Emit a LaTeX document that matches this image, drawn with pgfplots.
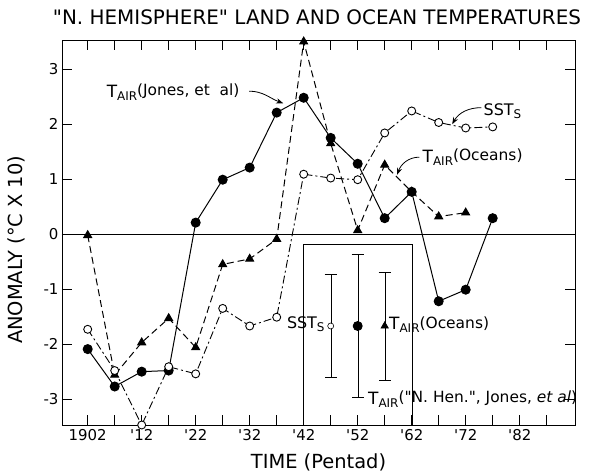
\documentclass[border=0pt]{standalone}
\usepackage{fontspec}
\setmainfont{DejaVu Sans}
\usepackage{pgfplots}
\pgfplotsset{compat=1.18}
\usetikzlibrary{arrows.meta}
\newcommand{\fs}[1]{\fontsize{#1}{#1}\selectfont}
\newcommand{\Tair}{{\fs{17}T}\raisebox{-0.5ex}{\fs{12}AIR}}
\newcommand{\SSTs}{{\fs{16}SST}\raisebox{-0.5ex}{\fs{12}S}}
\begin{document}
\begin{tikzpicture}
\useasboundingbox (-62bp,-47bp) rectangle (535bp,425bp);
\begin{axis}[
  at={(0,0)}, anchor=south west, scale only axis,
  width=513bp, height=385bp,
  xmin=1897.24, xmax=1992.24, ymin=-3.47, ymax=3.53,
  xtick={1902,1912,1922,1932,1942,1952,1962,1972,1982},
  xticklabels={1902,\textquotesingle12,\textquotesingle22,\textquotesingle32,\textquotesingle42,\textquotesingle52,\textquotesingle62,\textquotesingle72,\textquotesingle82},
  minor xtick={1907,1917,1927,1937,1947,1957,1967,1977,1987},
  ytick={-3,-2,-1,0,1,2,3},
  yticklabels={-3,-2,-1,0,1,2,3},
  tick align=inside,
  major tick length=10bp, minor tick length=10bp,
  tick style={black, line width=0.8pt},
  axis line style={line width=1pt},
  ticklabel style={font=\fs{15}},
  xticklabel style={yshift=-1bp},
  clip=false,
]
\addplot[black, line width=0.8pt] coordinates {(1897.24,0) (1992.24,0)};

% T_AIR Jones et al
\addplot[black, line width=1pt, mark=*, mark size=4.5bp, mark options={solid, fill=black}] coordinates {
(1902,-2.09)(1907,-2.77)(1912,-2.50)(1917,-2.48)(1922,0.21)(1927,0.99)(1932,1.21)(1937,2.21)(1942,2.48)(1947,1.75)(1952,1.28)(1957,0.29)(1962,0.77)(1967,-1.22)(1972,-1.01)(1977,0.29)};

% T_AIR Oceans
\addplot[black, line width=1pt, dash pattern=on 7bp off 4bp, mark=triangle*, mark size=4.5bp, mark options={solid, fill=black}] coordinates {
(1902,-0.02)(1907,-2.56)(1912,-1.97)(1917,-1.53)(1922,-2.06)(1927,-0.55)(1932,-0.45)(1937,-0.09)(1942,3.50)(1947,1.65)(1952,0.07)(1957,1.26)(1962,0.77)(1967,0.32)(1972,0.39)};

% SST_S
\addplot[black, line width=0.9pt, dash pattern=on 8bp off 3bp on 2bp off 3bp, mark=*, mark size=4bp, mark options={solid, fill=white}] coordinates {
(1902,-1.73)(1907,-2.48)(1912,-3.47)(1917,-2.41)(1922,-2.54)(1927,-1.35)(1932,-1.67)(1937,-1.51)(1942,1.09)(1947,1.02)(1952,0.99)(1957,1.84)(1962,2.24)(1967,2.03)(1972,1.93)(1977,1.95)};

% inset box
\draw[line width=0.8pt] (axis cs:1942,-3.47) -- (axis cs:1942,-0.18) -- (axis cs:1962.2,-0.18) -- (axis cs:1962.2,-3.47);

% error bars
\addplot[black, line width=0.6pt, mark=*, mark size=3bp, mark options={fill=white},
  error bars/.cd, y dir=both, y explicit, error mark=|, error mark options={mark size=6bp, line width=0.8pt}]
  coordinates {(1947,-1.67) +- (0,0.94)};
\addplot[black, line width=0.9pt, mark=*, mark size=4.5bp, mark options={fill=black},
  error bars/.cd, y dir=both, y explicit, error mark=|, error mark options={mark size=6bp, line width=0.8pt}]
  coordinates {(1952,-1.67) +- (0,1.30)};
\addplot[black, line width=0.9pt, mark=triangle*, mark size=4bp, mark options={fill=black},
  error bars/.cd, y dir=both, y explicit, error mark=|, error mark options={mark size=6bp, line width=0.8pt}]
  coordinates {(1957,-1.67) +- (0,0.98)};

% inset labels
\node[anchor=east, inner sep=0pt] at (axis cs:1945.9,-1.64) {\SSTs};
\node[anchor=west, inner sep=0pt] at (axis cs:1957.8,-1.64) {\Tair\raisebox{0.3ex}{\fs{15.5}(Oceans)}};
\node[anchor=west, inner sep=0pt] at (axis cs:1953.9,-3.0) {\Tair\raisebox{0.3ex}{\fs{15.5}(\textquotedbl N. Hen.\textquotedbl, Jones, \textit{et al})}};

% annotations
\node[anchor=west, inner sep=0pt] at (axis cs:1905.5,2.58) {\Tair\raisebox{0.3ex}{\fs{15.5}(Jones, et\ \ al)}};
\draw[-{Stealth[length=7bp]}, line width=0.8pt] (axis cs:1931.9,2.6) to[out=0, in=160] (axis cs:1938.2,2.38);

\node[anchor=west, inner sep=0pt] at (axis cs:1975.3,2.24) {\SSTs};
\draw[-{Stealth[length=7bp]}, line width=0.8pt] (axis cs:1974.9,2.3) to[out=180, in=60] (axis cs:1969.5,2.0);

\node[anchor=west, inner sep=0pt] at (axis cs:1964.0,1.40) {\Tair\raisebox{0.3ex}{\fs{15.5}(Oceans)}};
\draw[-{Stealth[length=7bp]}, line width=0.8pt] (axis cs:1963.4,1.40) to[out=180, in=70] (axis cs:1959.3,1.08);

% labels
\node[font=\fs{20}] at (axis description cs:0.497,1.06) {\textquotedbl N. HEMISPHERE\textquotedbl{} LAND AND OCEAN TEMPERATURES};
\node[font=\fs{19.5}] at (axis description cs:0.5,-0.096) {TIME (Pentad)};
\node[font=\fs{19.5}, rotate=90] at (axis description cs:-0.088,0.455) {ANOMALY (°C X 10)};
\end{axis}
\end{tikzpicture}
\end{document}
